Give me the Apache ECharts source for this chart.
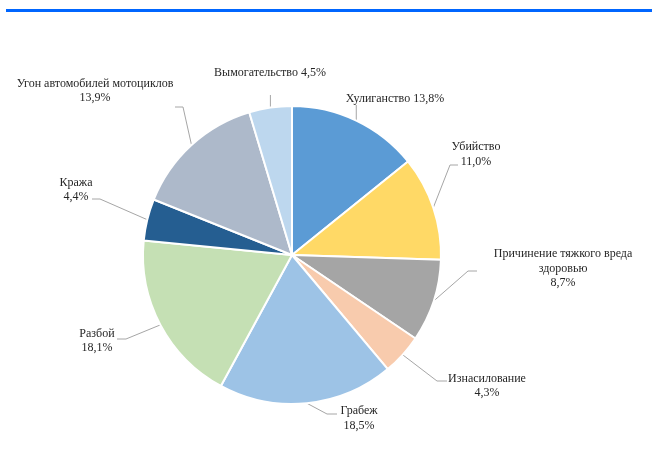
<!DOCTYPE html>
<html>
<head>
<meta charset="utf-8">
<script src="https://cdn.jsdelivr.net/npm/echarts@6/dist/echarts.min.js"></script>
<style>
html,body{margin:0;padding:0;background:#fff;}
#chart{width:652px;height:453px;}
</style>
</head>
<body>
<div id="chart"></div>
<script>
// ---- data ----
var categories = [
  'Хулиганство',
  'Убийство',
  'Причинение тяжкого вреда здоровью',
  'Изнасилование',
  'Грабеж',
  'Разбой',
  'Кража',
  'Угон автомобилей мотоциклов',
  'Вымогательство'
];
var values = [13.8, 11.0, 8.7, 4.3, 18.5, 18.1, 4.4, 13.9, 4.5];
// label text as displayed (line breaks)
var labelNames = [
  'Хулиганство',
  'Убийство',
  'Причинение тяжкого вреда\nздоровью',
  'Изнасилование',
  'Грабеж',
  'Разбой',
  'Кража',
  'Угон автомобилей мотоциклов',
  'Вымогательство'
];
var labelSeparators = [' ', '\n', '\n', '\n', '\n', '\n', '\n', '\n', ' '];
var colors = ['#5B9BD5', '#FFD966', '#A5A5A5', '#F8CBAD', '#9DC3E6', '#C5E0B4', '#255E91', '#ADB9CA', '#BDD7EE'];

// ---- label layout (positions only) ----
var labelSpots = [
  {pos: [395, 98.5], vertical: true, endY: 105},
  {pos: [476, 154.5], bend: [450, 165], end: [458, 165]},
  {pos: [563, 268.5], bend: [468, 271], end: [477, 271]},
  {pos: [487, 386], bend: [437, 381], end: [447, 381]},
  {pos: [359, 418.5], bend: [327, 414], end: [337, 414]},
  {pos: [97, 341], bend: [126, 339], end: [117, 339]},
  {pos: [76, 190], bend: [100, 199], end: [92, 199]},
  {pos: [95, 91], bend: [183, 107], end: [175, 107]},
  {pos: [270, 73], vertical: true, endY: 95}
];

function fmt(v) { return v.toFixed(1).replace('.', ',') + '%'; }

var chart = echarts.init(document.getElementById('chart'), null, {renderer: 'canvas'});
chart.setOption({
  animation: false,
  backgroundColor: '#ffffff',
  color: colors,
  graphic: [{
    type: 'rect', left: 6, top: 9,
    shape: {width: 646, height: 3},
    style: {fill: '#0066FF'}
  }],
  series: [{
    type: 'pie',
    center: [292, 255],
    radius: 149,
    startAngle: 90,
    clockwise: true,
    avoidLabelOverlap: false,
    itemStyle: {borderColor: '#ffffff', borderWidth: 2},
    label: {
      show: true,
      position: 'outside',
      fontFamily: '"Liberation Serif", "DejaVu Serif", serif',
      fontSize: 12,
      lineHeight: 14.5,
      color: '#262626',
      align: 'center',
      formatter: function (p) {
        return labelNames[p.dataIndex] + labelSeparators[p.dataIndex] + fmt(p.value);
      }
    },
    labelLine: {
      show: true,
      length: 10,
      length2: 10,
      smooth: false,
      lineStyle: {color: '#A6A6A6', width: 1}
    },
    labelLayout: function (p) {
      var s = labelSpots[p.dataIndex];
      var pts = p.labelLinePoints;
      var p0 = pts[0];
      var line = s.vertical ? [p0, [p0[0], s.endY]] : [p0, s.bend, s.end];
      return {
        x: s.pos[0], y: s.pos[1],
        align: 'center', verticalAlign: 'middle',
        labelLinePoints: line
      };
    },
    emphasis: {disabled: true},
    data: categories.map(function (c, i) { return {name: c, value: values[i]}; })
  }]
});
</script>
</body>
</html>
